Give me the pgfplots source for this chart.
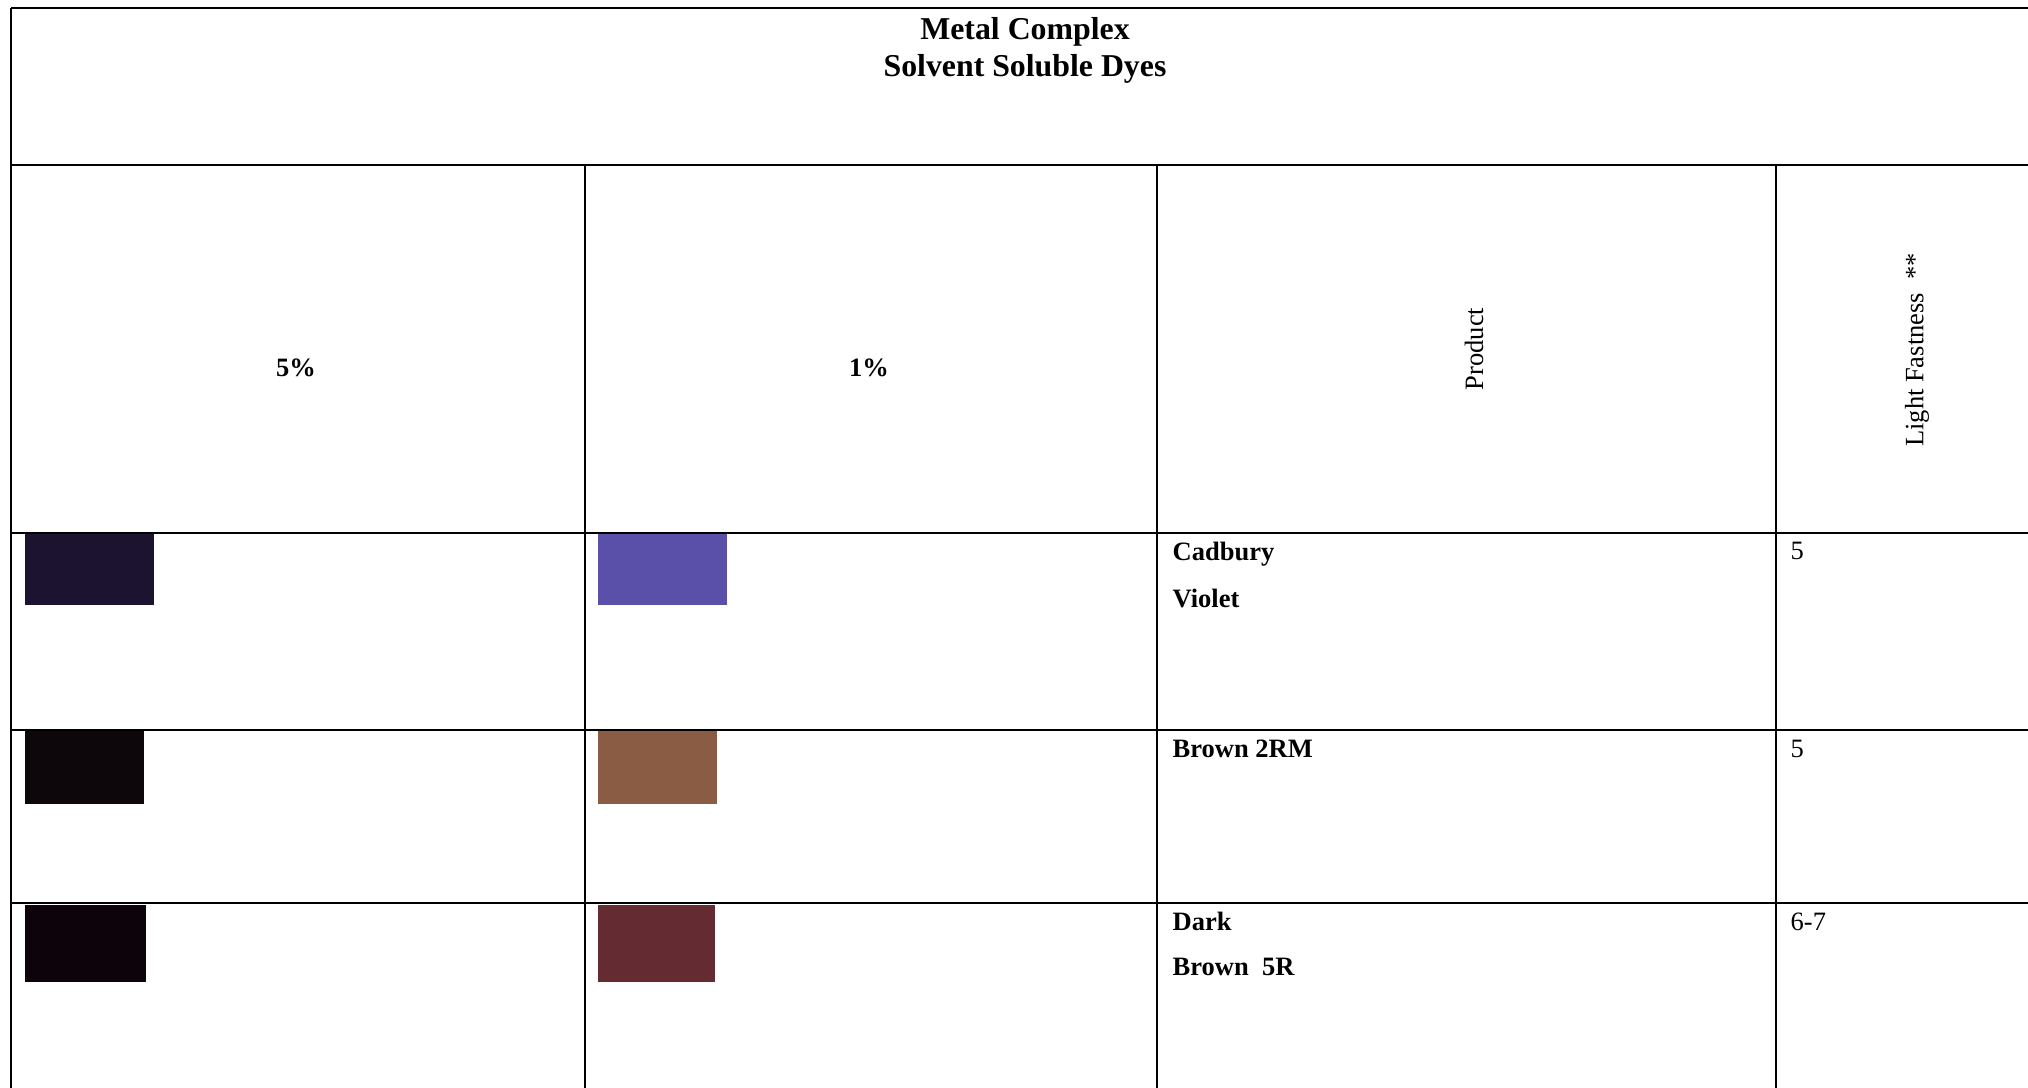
\documentclass[border=0pt]{standalone}
\usepackage{fontspec}
\setmainfont{Liberation Serif}
\usepackage{pgfplots}
\pgfplotsset{compat=1.18}

% swatch colours
\definecolor{sw1a}{HTML}{1B1330}
\definecolor{sw1b}{HTML}{5A50AA}
\definecolor{sw2a}{HTML}{0D060A}
\definecolor{sw2b}{HTML}{8B5C44}
\definecolor{sw3a}{HTML}{0C040A}
\definecolor{sw3b}{HTML}{642C32}

\newcommand{\bodyfont}{\fontsize{7.54}{9}\selectfont}
\newcommand{\titlefont}{\fontsize{9.05}{11}\selectfont\bfseries}

\begin{document}
\begin{tikzpicture}
\begin{axis}[
    width=202.8mm, height=108.8mm, scale only axis,
    xmin=0, xmax=2028, ymin=0, ymax=1088,
    y dir=reverse,
    hide axis]
    % page extent
    \addplot[draw=none] coordinates {(0,0) (2028,1088)};

    % colour swatches (5% and 1% columns)
    \addplot[fill=sw1a, draw=none] coordinates {(25,534) (154,534) (154,605) (25,605)};
    \addplot[fill=sw1b, draw=none] coordinates {(598,534) (727,534) (727,605) (598,605)};
    \addplot[fill=sw2a, draw=none] coordinates {(25,731) (144,731) (144,804) (25,804)};
    \addplot[fill=sw2b, draw=none] coordinates {(598,731) (717,731) (717,804) (598,804)};
    \addplot[fill=sw3a, draw=none] coordinates {(25,905) (146,905) (146,982) (25,982)};
    \addplot[fill=sw3b, draw=none] coordinates {(598,905) (715,905) (715,982) (598,982)};

    % rules of the table
    \addplot[black, line width=0.6pt] coordinates {(11,8) (2028,8)};
    \addplot[black, line width=0.6pt] coordinates {(11,165) (2028,165)};
    \addplot[black, line width=0.6pt] coordinates {(11,533) (2028,533)};
    \addplot[black, line width=0.6pt] coordinates {(11,730) (2028,730)};
    \addplot[black, line width=0.6pt] coordinates {(11,903) (2028,903)};
    \addplot[black, line width=0.6pt] coordinates {(11,8) (11,1088)};
    \addplot[black, line width=0.6pt] coordinates {(585,165) (585,1088)};
    \addplot[black, line width=0.6pt] coordinates {(1157,165) (1157,1088)};
    \addplot[black, line width=0.6pt] coordinates {(1776,165) (1776,1088)};

    % title
    \node[font=\titlefont, anchor=base] at (axis cs:1025,39) {Metal Complex};
    \node[font=\titlefont, anchor=base] at (axis cs:1025,76) {Solvent Soluble Dyes};

    % column heads
    \node[font=\bodyfont\bfseries, anchor=base] at (axis cs:296,376) {5\%};
    \node[font=\bodyfont\bfseries, anchor=base] at (axis cs:869,376) {1\%};
    \node[font=\bodyfont, rotate=90, anchor=center] at (axis cs:1474,349) {Product};
    \node[font=\bodyfont, rotate=90, anchor=center] at (axis cs:1917,350) {Light Fastness~~**};

    % rows
    \node[font=\bodyfont\bfseries, anchor=base west, inner sep=0pt] at (axis cs:1172,560) {Cadbury};
    \node[font=\bodyfont\bfseries, anchor=base west, inner sep=0pt] at (axis cs:1172,607) {Violet};
    \node[font=\bodyfont, anchor=base west, inner sep=0pt] at (axis cs:1790,559) {5};

    \node[font=\bodyfont\bfseries, anchor=base west, inner sep=0pt] at (axis cs:1172,757) {Brown 2RM};
    \node[font=\bodyfont, anchor=base west, inner sep=0pt] at (axis cs:1790,757) {5};

    \node[font=\bodyfont\bfseries, anchor=base west, inner sep=0pt] at (axis cs:1172,930) {Dark};
    \node[font=\bodyfont\bfseries, anchor=base west, inner sep=0pt] at (axis cs:1172,975) {Brown~~5R};
    \node[font=\bodyfont, anchor=base west, inner sep=0pt] at (axis cs:1790,930) {6-7};
\end{axis}
\end{tikzpicture}
\end{document}
